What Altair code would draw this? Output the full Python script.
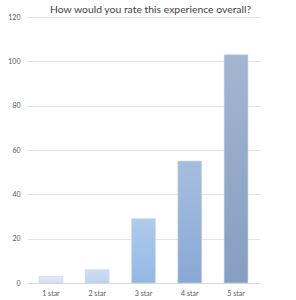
import altair as alt
import pandas as pd

categories = ["1 star", "2 star", "3 star", "4 star", "5 star"]
counts = [3, 6, 29, 55, 103]

top_colors = ["#e0e9f5", "#d0ddf0", "#b0cbec", "#a6bedd", "#a3b5d0"]
bottom_colors = ["#d5e1f2", "#bed2ee", "#93b8e5", "#88a9d5", "#869ec2"]

df = pd.DataFrame({"rating": categories, "count": counts})

x_enc = alt.X(
    "rating:N",
    sort=categories,
    scale=alt.Scale(domain=categories, paddingInner=0.485, paddingOuter=0.26),
    axis=alt.Axis(
        title=None, labelAngle=0, labelFont="Lato", labelFontSize=7,
        labelColor="#595959", domainColor="#d9d9d9", domainWidth=1,
        ticks=False, labelPadding=6, grid=False,
    ),
)
y_enc = alt.Y(
    "count:Q",
    scale=alt.Scale(domain=[0, 120], nice=False),
    axis=alt.Axis(
        title=None, values=[0, 20, 40, 60, 80, 100, 120], labelFont="Lato",
        labelFontSize=7, labelColor="#595959", gridColor="#e4e4e4",
        gridWidth=1, domain=False, ticks=False, labelPadding=7,
    ),
)

layers = []
for cat, tc, bc in zip(categories, top_colors, bottom_colors):
    grad = alt.LinearGradient(
        gradient="linear",
        stops=[alt.GradientStop(color=tc, offset=0), alt.GradientStop(color=bc, offset=1)],
        x1=0, x2=0, y1=0, y2=1,
    )
    layers.append(
        alt.Chart(df)
        .transform_filter(alt.datum.rating == cat)
        .mark_bar(color=grad, stroke="#c8d6ea", strokeWidth=0.6)
        .encode(x=x_enc, y=y_enc)
    )

chart = (
    alt.layer(*layers)
    .properties(
        width=233,
        height=266,
        background="white",
        title=alt.TitleParams(
            "How would you rate this experience overall?",
            font="Lato", fontSize=10.4, fontWeight="normal", color="#404040",
            anchor="middle", offset=4, dx=7, dy=6,
        ),
        autosize=alt.AutoSizeParams(type="none"),
        padding={"left": 27, "top": 17, "right": 36, "bottom": 17},
    )
    .configure_view(stroke="transparent", strokeWidth=0, strokeOpacity=0)
    .configure_axisX(grid=False)
    .configure_axisY(domain=False, ticks=False)
)

chart.save("out.html", embed_options={"renderer": "svg", "actions": False})
